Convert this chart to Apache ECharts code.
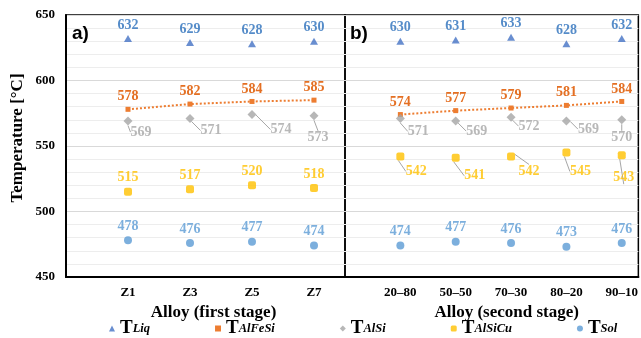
<!DOCTYPE html>
<html><head><meta charset="utf-8">
<script src="https://cdn.jsdelivr.net/npm/echarts@6/dist/echarts.min.js"></script>
<style>html,body{margin:0;padding:0;background:#fff}#c{width:641px;height:338px}</style>
</head><body><div id="c"></div>
<script>
// ---- data ----
const catA = ['Z1', 'Z3', 'Z5', 'Z7'];
const catB = ['20–80', '50–50', '70–30', '80–20', '90–10'];
const yTicks = [450, 500, 550, 600, 650];
const liqA = [632, 629, 628, 630];
const liqB = [630, 631, 633, 628, 632];
const feA = [578, 582, 584, 585];
const feB = [574, 577, 579, 581, 584];
const siA = [569, 571, 574, 573];
const siB = [571, 569, 572, 569, 570];
const cuA = [515, 517, 520, 518];
const cuB = [542, 541, 542, 545, 543];
const solA = [478, 476, 477, 474];
const solB = [474, 477, 476, 473, 476];
const legendNames = ['TLiq', 'TAlFeSi', 'TAlSi', 'TAlSiCu', 'TSol'];
const legendSubs = ['Liq', 'AlFeSi', 'AlSi', 'AlSiCu', 'Sol'];

// ---- label displacement (layout only) ----
const siOffA = [[13, 11], [21, 12], [29, 15], [4, 22]];
const siOffB = [[18, 13], [21, 10], [18, 9], [22, 8], [0, 18]];
const cuOffB = [[16, 15], [19, 18], [18, 15], [14, 19], [2, 22]];

const FONT = 'Liberation Serif';
const pts = arr => arr.map((v, i) => [i + 1, v]);
const C = {
  liq: '#4472C4', liqL: '#2A6FBB',
  fe: '#ED7D31', feL: '#E46F22',
  si: '#A5A5A5', siL: '#A6A6A6',
  cu: '#FFC000', cuL: '#FFC000',
  sol: '#5B9BD5', solL: '#5B9BD5'
};

function lbl(color, pos) {
  return { show: true, position: pos || 'top', distance: 3, color: color,
    fontFamily: FONT, fontWeight: 'bold', fontSize: 14,
    formatter: p => String(p.value[1]) };
}
function mk(name, arr, gi, symbol, size, color, lcolor, offs) {
  const s = {
    name: name, type: 'scatter', xAxisIndex: gi, yAxisIndex: gi,
    data: pts(arr), symbol: symbol, symbolSize: size,
    itemStyle: { color: color },
    label: lbl(lcolor, offs ? 'inside' : 'top'),
    z: 3
  };
  if (offs) {
    s.labelLayout = p => ({ dx: offs[p.dataIndex][0], dy: offs[p.dataIndex][1] });
    s.labelLine = { show: true, lineStyle: { color: '#A6A6A6', width: 1 } };
  }
  return s;
}
function feLine(arr, gi) {
  return {
    name: 'TAlFeSi', type: 'line', xAxisIndex: gi, yAxisIndex: gi,
    data: pts(arr), symbol: 'rect', symbolSize: 5,
    itemStyle: { color: C.fe },
    lineStyle: { color: C.fe, width: 2, type: [2, 2] },
    label: lbl(C.feL), z: 3
  };
}

function xAxis(gi, cats, max) {
  return {
    type: 'value', gridIndex: gi, min: 0, max: max, interval: 1,
    axisLine: { show: true, lineStyle: { color: '#000', width: 2 } },
    axisTick: { show: false }, splitLine: { show: false },
    axisLabel: { margin: 9, color: '#000', fontFamily: FONT, fontWeight: 'bold', fontSize: 13,
      showMaxLabel: false, formatter: v => cats[Math.round(v) - 1] || '' },
    name: gi === 0 ? 'Alloy (first stage)' : 'Alloy (second stage)',
    nameLocation: 'middle', nameGap: 21,
    nameTextStyle: { color: '#000', fontFamily: FONT, fontWeight: 'bold', fontSize: 17,
      padding: gi === 0 ? [0, 0, 0, 16] : [0, 0, 0, 30] }
  };
}
function yAxis(gi) {
  return {
    type: 'value', gridIndex: gi, min: yTicks[0], max: yTicks[yTicks.length - 1], interval: 50,
    axisLine: { show: gi === 0, lineStyle: { color: '#000', width: 2 } },
    axisTick: { show: false },
    axisLabel: { show: gi === 0, margin: 11, color: '#000', fontFamily: FONT, fontWeight: 'bold', fontSize: 13 },
    splitLine: { show: true, lineStyle: { color: '#D9D9D9', width: 1 } },
    minorTick: { show: false, splitNumber: 5 },
    minorSplitLine: { show: true, lineStyle: { color: '#EDEDED', width: 1 } },
    name: gi === 0 ? 'Temperature [°C]' : '',
    nameLocation: 'middle', nameGap: 40,
    nameTextStyle: { color: '#000', fontFamily: FONT, fontWeight: 'bold', fontSize: 17, padding: [0, 0, 0, 16] }
  };
}

const chart = echarts.init(document.getElementById('c'), null, { renderer: 'canvas' });
chart.setOption({
  animation: false,
  backgroundColor: '#fff',
  grid: [
    { left: 66, top: 15, width: 279, height: 262, show: true, borderColor: '#000', borderWidth: 1.5, backgroundColor: 'transparent' },
    { left: 345, top: 15, width: 297, height: 262, show: true, borderColor: '#000', borderWidth: 1.5, backgroundColor: 'transparent' }
  ],
  xAxis: [xAxis(0, catA, 4.5), xAxis(1, catB, 5.3)],
  yAxis: [yAxis(0), yAxis(1)],
  graphic: [
    { type: 'text', left: 72, top: 24, z: 10, style: { text: 'a)', font: 'bold 19px "Liberation Sans", Arial', fill: '#000' } },
    { type: 'text', left: 350, top: 24, z: 10, style: { text: 'b)', font: 'bold 19px "Liberation Sans", Arial', fill: '#000' } }
  ],
  legend: {
    left: 104, top: 314, itemGap: 65, itemWidth: 6, itemHeight: 6,
    data: [
      { name: 'TLiq', icon: 'triangle' },
      { name: 'TAlFeSi', icon: 'rect' },
      { name: 'TAlSi', icon: 'diamond' },
      { name: 'TAlSiCu', icon: 'roundRect' },
      { name: 'TSol', icon: 'circle' }
    ],
    formatter: n => '{t|T}{s|' + legendSubs[legendNames.indexOf(n)] + '}',
    textStyle: {
      rich: {
        t: { fontFamily: FONT, fontWeight: 'bold', fontSize: 19, color: '#000' },
        s: { fontFamily: FONT, fontWeight: 'bold', fontStyle: 'italic', fontSize: 12.5, color: '#000' }
      }
    }
  },
  series: [
    mk('TLiq', liqA, 0, 'triangle', [8, 7], C.liq, C.liqL),
    feLine(feA, 0),
    mk('TAlSi', siA, 0, 'diamond', 9, C.si, C.siL, siOffA),
    mk('TAlSiCu', cuA, 0, 'roundRect', 8, C.cu, C.cuL),
    mk('TSol', solA, 0, 'circle', 8, C.sol, C.solL),
    mk('TLiq', liqB, 1, 'triangle', [8, 7], C.liq, C.liqL),
    feLine(feB, 1),
    mk('TAlSi', siB, 1, 'diamond', 9, C.si, C.siL, siOffB),
    mk('TAlSiCu', cuB, 1, 'roundRect', 8, C.cu, C.cuL, cuOffB),
    mk('TSol', solB, 1, 'circle', 8, C.sol, C.solL)
  ]
});
</script></body></html>
